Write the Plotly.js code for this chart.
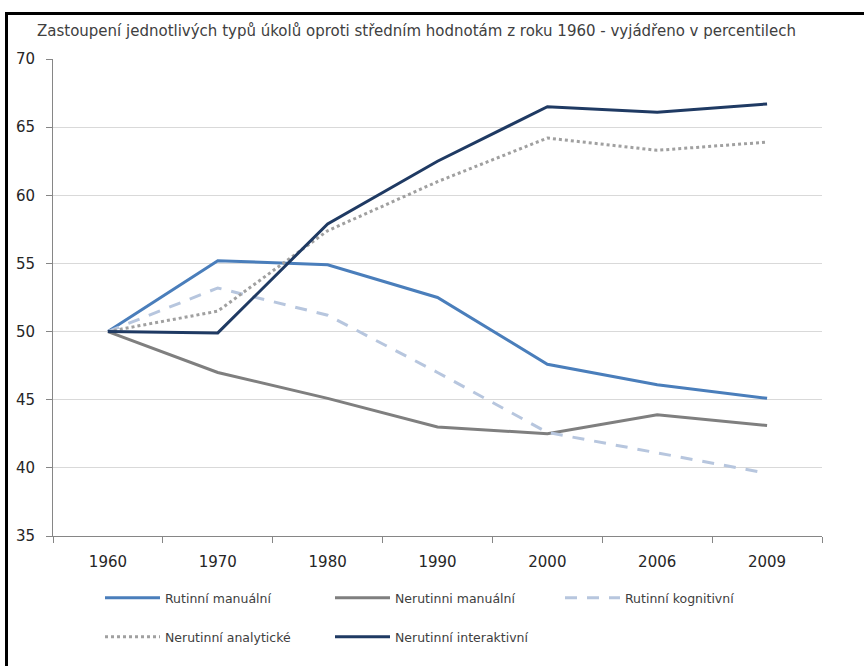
<!DOCTYPE html>
<html>
<head>
<meta charset="utf-8">
<script src="https://cdn.plot.ly/plotly-3.0.1.min.js"></script>
<style>
  html, body { margin: 0; padding: 0; background: #fff; overflow: hidden; }
  #frame {
    position: absolute; left: 5px; top: 12px; width: 870px; height: 660px;
    border-left: 3px solid #000; border-top: 3px solid #000;
  }
</style>
</head>
<body>
<div id="frame"><div id="chart"></div></div>
<script>
// Percentile share of task types relative to 1960 means
const years = ['1960', '1970', '1980', '1990', '2000', '2006', '2009'];

const rutinniManualni      = [50, 55.2, 54.9, 52.5, 47.6, 46.1, 45.1];
const nerutinniManualni    = [50, 47.0, 45.1, 43.0, 42.5, 43.9, 43.1];
const rutinniKognitivni    = [50, 53.2, 51.2, 47.0, 42.6, 41.1, 39.6];
const nerutinniAnalyticke  = [50, 51.5, 57.4, 61.0, 64.2, 63.3, 63.9];
const nerutinniInteraktivni = [50, 49.9, 57.9, 62.5, 66.5, 66.1, 66.7];

const seriesNames = [
  'Rutinní manuální',
  'Nerutinni manuální',
  'Rutinní kognitivní',
  'Nerutinní analytické',
  'Nerutinní interaktivní'
];

const FONT = 'DejaVu Sans, sans-serif';

function line(name, y, color, dash, legend) {
  return {
    type: 'scatter', mode: 'lines', x: years, y: y, name: name,
    line: { color: color, width: 3, dash: dash },
    legend: legend
  };
}

const traces = [
  line(seriesNames[0], rutinniManualni, '#4A7EBB', 'solid', 'legend'),
  line(seriesNames[1], nerutinniManualni, '#7F7F7F', 'solid', 'legend'),
  line(seriesNames[2], rutinniKognitivni, '#B7C6DE', '12px,10px', 'legend'),
  line(seriesNames[3], nerutinniAnalyticke, '#A0A0A0', 'dot', 'legend2'),
  line(seriesNames[4], nerutinniInteraktivni, '#1F3A63', 'solid', 'legend2')
];

const W = 854, H = 651;

const legendCommon = {
  orientation: 'h', xanchor: 'left', yanchor: 'middle',
  xref: 'container', yref: 'container',
  font: { family: FONT, size: 12.5, color: '#404040' },
  itemwidth: 55,
  entrywidthmode: 'pixels', entrywidth: 160,
  bgcolor: 'rgba(0,0,0,0)', traceorder: 'normal'
};

const layout = {
  width: W, height: H,
  margin: { l: 45, r: 40, t: 44, b: 130 },
  paper_bgcolor: '#ffffff', plot_bgcolor: '#ffffff',
  showlegend: true,
  title: {
    text: 'Zastoupení jednotlivých typů úkolů oproti středním hodnotám z roku 1960 - vyjádřeno v percentilech',
    font: { family: FONT, size: 15, color: '#404040' },
    xref: 'container', yref: 'container',
    x: 29 / W, xanchor: 'left',
    y: 1 - 16 / H, yanchor: 'middle'
  },
  xaxis: {
    type: 'category',
    range: [-0.5, 6.5],
    showline: true, linecolor: '#868686', linewidth: 1,
    ticks: 'outside', ticklen: 6, tickcolor: '#868686',
    tickson: 'boundaries',
    ticklabelstandoff: 12,
    showgrid: false, zeroline: false,
    tickfont: { family: FONT, size: 15, color: '#262626' },
    fixedrange: true
  },
  yaxis: {
    range: [35, 70], dtick: 5, tick0: 35,
    showline: true, linecolor: '#868686', linewidth: 1,
    ticks: 'outside', ticklen: 6, tickcolor: '#868686',
    ticklabelstandoff: 8,
    showgrid: true, gridcolor: '#D9D9D9', gridwidth: 1,
    zeroline: false,
    tickfont: { family: FONT, size: 15, color: '#262626' },
    fixedrange: true
  },
  legend: Object.assign({}, legendCommon, { x: 92 / W, y: 1 - 583 / H }),
  legend2: Object.assign({}, legendCommon, { x: 92 / W, y: 1 - 622 / H })
};

Plotly.newPlot('chart', traces, layout, { staticPlot: true, displayModeBar: false });
</script>
</body>
</html>
